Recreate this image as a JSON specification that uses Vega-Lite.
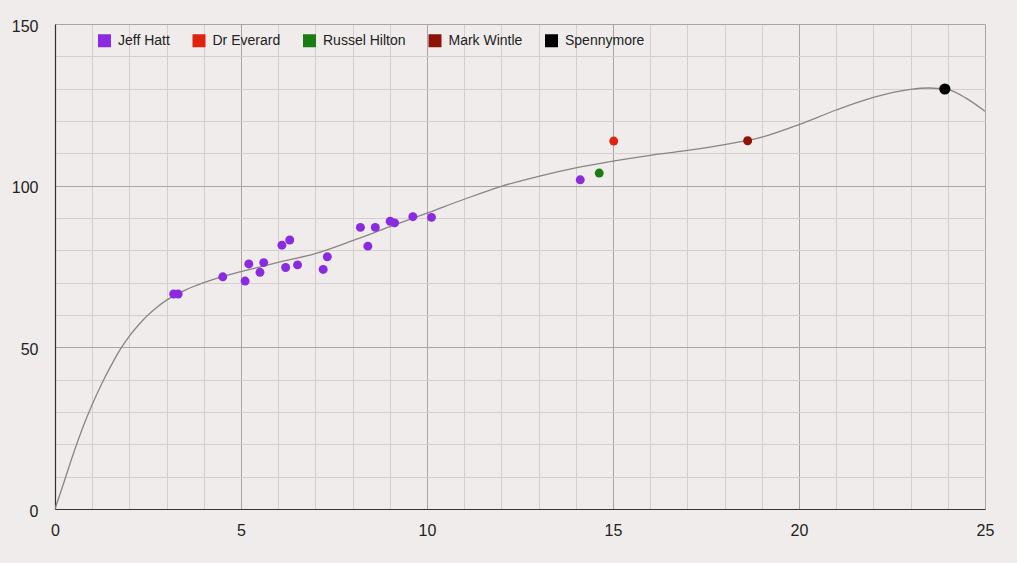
{
  "$schema": "https://vega.github.io/schema/vega-lite/v6.json",
  "width": 930,
  "height": 485,
  "autosize": "none",
  "padding": {"left": 55, "top": 24, "right": 32, "bottom": 54},
  "background": "#efeceb",
  "config": {
    "view": {"stroke": null},
    "font": "Liberation Sans",
    "axis": {
      "labelFont": "Liberation Sans",
      "labelFontSize": 16,
      "labelColor": "#222222",
      "labelFlush": false,
      "ticks": false,
      "domainColor": "#333333",
      "domainWidth": 1.2,
      "title": null,
      "gridWidth": 1
    }
  },
  "datasets": {
    "points": [
      {"x": 3.19, "y": 66.5, "series": "Jeff Hatt"},
      {"x": 3.31, "y": 66.5, "series": "Jeff Hatt"},
      {"x": 4.51, "y": 71.8, "series": "Jeff Hatt"},
      {"x": 5.11, "y": 70.5, "series": "Jeff Hatt"},
      {"x": 5.21, "y": 75.8, "series": "Jeff Hatt"},
      {"x": 5.51, "y": 73.2, "series": "Jeff Hatt"},
      {"x": 5.61, "y": 76.2, "series": "Jeff Hatt"},
      {"x": 6.1, "y": 81.6, "series": "Jeff Hatt"},
      {"x": 6.2, "y": 74.7, "series": "Jeff Hatt"},
      {"x": 6.31, "y": 83.2, "series": "Jeff Hatt"},
      {"x": 6.52, "y": 75.5, "series": "Jeff Hatt"},
      {"x": 7.21, "y": 74.1, "series": "Jeff Hatt"},
      {"x": 7.32, "y": 78.0, "series": "Jeff Hatt"},
      {"x": 8.21, "y": 87.1, "series": "Jeff Hatt"},
      {"x": 8.41, "y": 81.3, "series": "Jeff Hatt"},
      {"x": 8.61, "y": 87.1, "series": "Jeff Hatt"},
      {"x": 9.01, "y": 89.0, "series": "Jeff Hatt"},
      {"x": 9.13, "y": 88.5, "series": "Jeff Hatt"},
      {"x": 9.62, "y": 90.4, "series": "Jeff Hatt"},
      {"x": 10.12, "y": 90.2, "series": "Jeff Hatt"},
      {"x": 14.12, "y": 101.8, "series": "Jeff Hatt"},
      {"x": 15.02, "y": 113.8, "series": "Dr Everard"},
      {"x": 14.63, "y": 103.9, "series": "Russel Hilton"},
      {"x": 18.62, "y": 113.9, "series": "Mark Wintle"},
      {"x": 23.92, "y": 129.9, "series": "Spennymore"}
    ],
    "curve": [
      {"x": 0, "y": 0},
      {"x": 0.25, "y": 8.6},
      {"x": 0.5, "y": 17.3},
      {"x": 0.75, "y": 25.3},
      {"x": 1, "y": 32.3},
      {"x": 1.25, "y": 38.6},
      {"x": 1.5, "y": 44.2},
      {"x": 1.75, "y": 49.3},
      {"x": 2, "y": 53.5},
      {"x": 2.25, "y": 57},
      {"x": 2.5, "y": 60},
      {"x": 2.75, "y": 62.5},
      {"x": 3, "y": 64.6},
      {"x": 3.5, "y": 67.7},
      {"x": 4, "y": 70},
      {"x": 4.5, "y": 71.9},
      {"x": 5, "y": 73.4},
      {"x": 6, "y": 76.3},
      {"x": 7, "y": 79},
      {"x": 8, "y": 83},
      {"x": 9, "y": 87.3},
      {"x": 10, "y": 91.5},
      {"x": 11, "y": 95.8},
      {"x": 12, "y": 99.8},
      {"x": 13, "y": 102.9},
      {"x": 14, "y": 105.5},
      {"x": 15, "y": 107.6},
      {"x": 16, "y": 109.4},
      {"x": 17, "y": 110.9},
      {"x": 18, "y": 112.7},
      {"x": 19, "y": 115},
      {"x": 20, "y": 118.9},
      {"x": 21, "y": 123.4},
      {"x": 22, "y": 127.3},
      {"x": 23, "y": 129.8},
      {"x": 23.5, "y": 130.2},
      {"x": 24, "y": 129.7},
      {"x": 24.5, "y": 127},
      {"x": 25, "y": 123}
    ]
  },
  "encoding": {
    "x": {
      "field": "x",
      "type": "quantitative",
      "scale": {"domain": [0, 25], "nice": false},
      "axis": {
        "values": [0, 1, 2, 3, 4, 5, 6, 7, 8, 9, 10, 11, 12, 13, 14, 15, 16, 17, 18, 19, 20, 21, 22, 23, 24, 25],
        "labelExpr": "datum.value % 5 === 0 ? datum.label : ''",
        "labelPadding": 13,
        "labelBaseline": "top",
        "gridColor": {"condition": {"test": "datum.value % 5 === 0", "value": "#a9a5a3"}, "value": "#d3cfcd"}
      }
    },
    "y": {
      "field": "y",
      "type": "quantitative",
      "scale": {"domain": [0, 150], "nice": false},
      "axis": {
        "values": [0, 10, 20, 30, 40, 50, 60, 70, 80, 90, 100, 110, 120, 130, 140, 150],
        "labelExpr": "datum.value % 50 === 0 ? datum.label : ''",
        "labelPadding": 17,
        "labelOffset": 2,
        "gridColor": {"condition": {"test": "datum.value % 50 === 0", "value": "#a9a5a3"}, "value": "#d3cfcd"}
      }
    }
  },
  "layer": [
    {
      "data": {"name": "curve"},
      "mark": {"type": "line", "color": "#8a8482", "strokeWidth": 1.3, "interpolate": "monotone", "clip": true}
    },
    {
      "data": {"name": "points"},
      "mark": {"type": "circle", "opacity": 1},
      "encoding": {
        "color": {
          "field": "series",
          "type": "nominal",
          "scale": {
            "domain": ["Jeff Hatt", "Dr Everard", "Russel Hilton", "Mark Wintle", "Spennymore"],
            "range": ["#8a2be2", "#e0230e", "#1a7c13", "#8e1208", "#000000"]
          },
          "legend": {
            "title": null,
            "orient": "none",
            "direction": "horizontal",
            "legendX": 42,
            "legendY": 9,
            "symbolType": "square",
            "symbolSize": 169,
            "symbolOpacity": 1,
            "labelFont": "Liberation Sans",
            "labelFontSize": 14,
            "labelColor": "#222222",
            "labelOffset": 6,
            "columnPadding": 21.5
          }
        },
        "size": {
          "condition": {"test": "datum.series === 'Spennymore'", "value": 125},
          "value": 80
        }
      }
    }
  ]
}
